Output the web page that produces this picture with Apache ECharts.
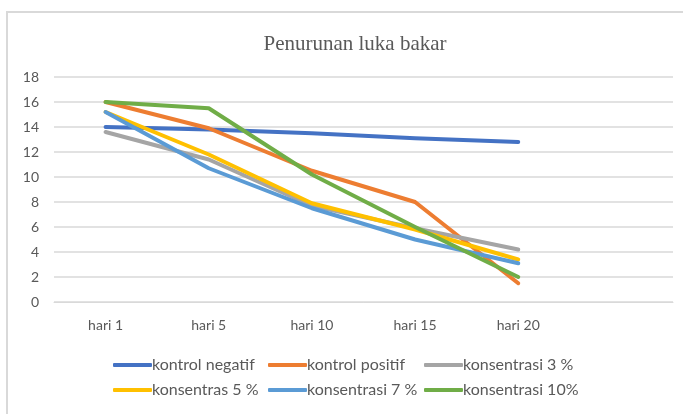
<!DOCTYPE html>
<html>
<head>
<meta charset="utf-8">
<script src="https://cdn.jsdelivr.net/npm/echarts@6/dist/echarts.min.js"></script>
<style>
  html, body { margin: 0; padding: 0; background: #fff; }
  #chart { width: 683px; height: 414px; }
</style>
</head>
<body>
<div id="chart"></div>
<script>
// categories (last slot is empty, the plot area runs on past hari 20)
const days = ["hari 1", "hari 5", "hari 10", "hari 15", "hari 20", ""];

const kontrolNegatif = [14, 13.8, 13.5, 13.1, 12.8];
const kontrolPositif = [16, 13.9, 10.5, 8, 1.5];
const konsentrasi3 = [13.6, 11.4, 7.7, 5.9, 4.2];
const konsentras5 = [15.2, 11.8, 7.9, 5.8, 3.4];
const konsentrasi7 = [15.2, 10.7, 7.5, 5.0, 3.1];
const konsentrasi10 = [16, 15.5, 10.2, 6.0, 2.0];

const seriesNames = ["kontrol negatif", "kontrol positif", "konsentrasi 3 %",
  "konsentras 5 %", "konsentrasi 7 %", "konsentrasi 10%"];
const seriesData = [kontrolNegatif, kontrolPositif, konsentrasi3,
  konsentras5, konsentrasi7, konsentrasi10];
const colors = ["#4472C4", "#ED7D31", "#A5A5A5", "#FFC000", "#5B9BD5", "#70AD47"];

const labelFont = "Lato, 'Open Sans', sans-serif";

// legend laid out as three columns of two entries
function legendCol(names, left) {
  return {
    data: names,
    orient: "vertical",
    top: 352,
    left: left,
    itemWidth: 39,
    itemHeight: 4,
    itemGap: 9,
    icon: "roundRect",
    textStyle: { color: "#595959", fontSize: 16, fontFamily: labelFont, padding: [0, 0, 0, -5] },
  };
}

const chart = echarts.init(document.getElementById("chart"));
chart.setOption({
  animation: false,
  color: colors,
  title: {
    text: "Penurunan luka bakar",
    left: 350,
    top: 29,
    textAlign: "center",
    textStyle: { fontFamily: "'Liberation Serif', serif", fontSize: 21, fontWeight: "normal", color: "#595959" },
  },
  graphic: [{
    type: "rect",
    shape: { x: 7, y: 12, width: 720, height: 440 },
    style: { fill: "none", stroke: "#d9d9d9", lineWidth: 2 },
    z: -1,
  }],
  legend: [
    legendCol([seriesNames[0], seriesNames[3]], 108),
    legendCol([seriesNames[1], seriesNames[4]], 263),
    legendCol([seriesNames[2], seriesNames[5]], 419),
  ],
  grid: { left: 54, right: 10, top: 77, bottom: 112 },
  xAxis: {
    type: "category",
    data: days,
    boundaryGap: true,
    axisLine: { lineStyle: { color: "#d9d9d9" } },
    axisTick: { show: false },
    axisLabel: { color: "#595959", fontSize: 14, fontFamily: labelFont, margin: 16 },
  },
  yAxis: {
    type: "value",
    min: 0,
    max: 18,
    interval: 2,
    axisLine: { show: false },
    axisTick: { show: false },
    axisLabel: { color: "#595959", fontSize: 14, fontFamily: labelFont, margin: 15 },
    splitLine: { lineStyle: { color: "#d9d9d9", width: 1.5 } },
  },
  series: seriesNames.map((name, i) => ({
    name: name,
    type: "line",
    data: seriesData[i],
    symbol: "none",
    lineStyle: { width: 4, cap: "round", join: "round" },
  })),
});
</script>
</body>
</html>
